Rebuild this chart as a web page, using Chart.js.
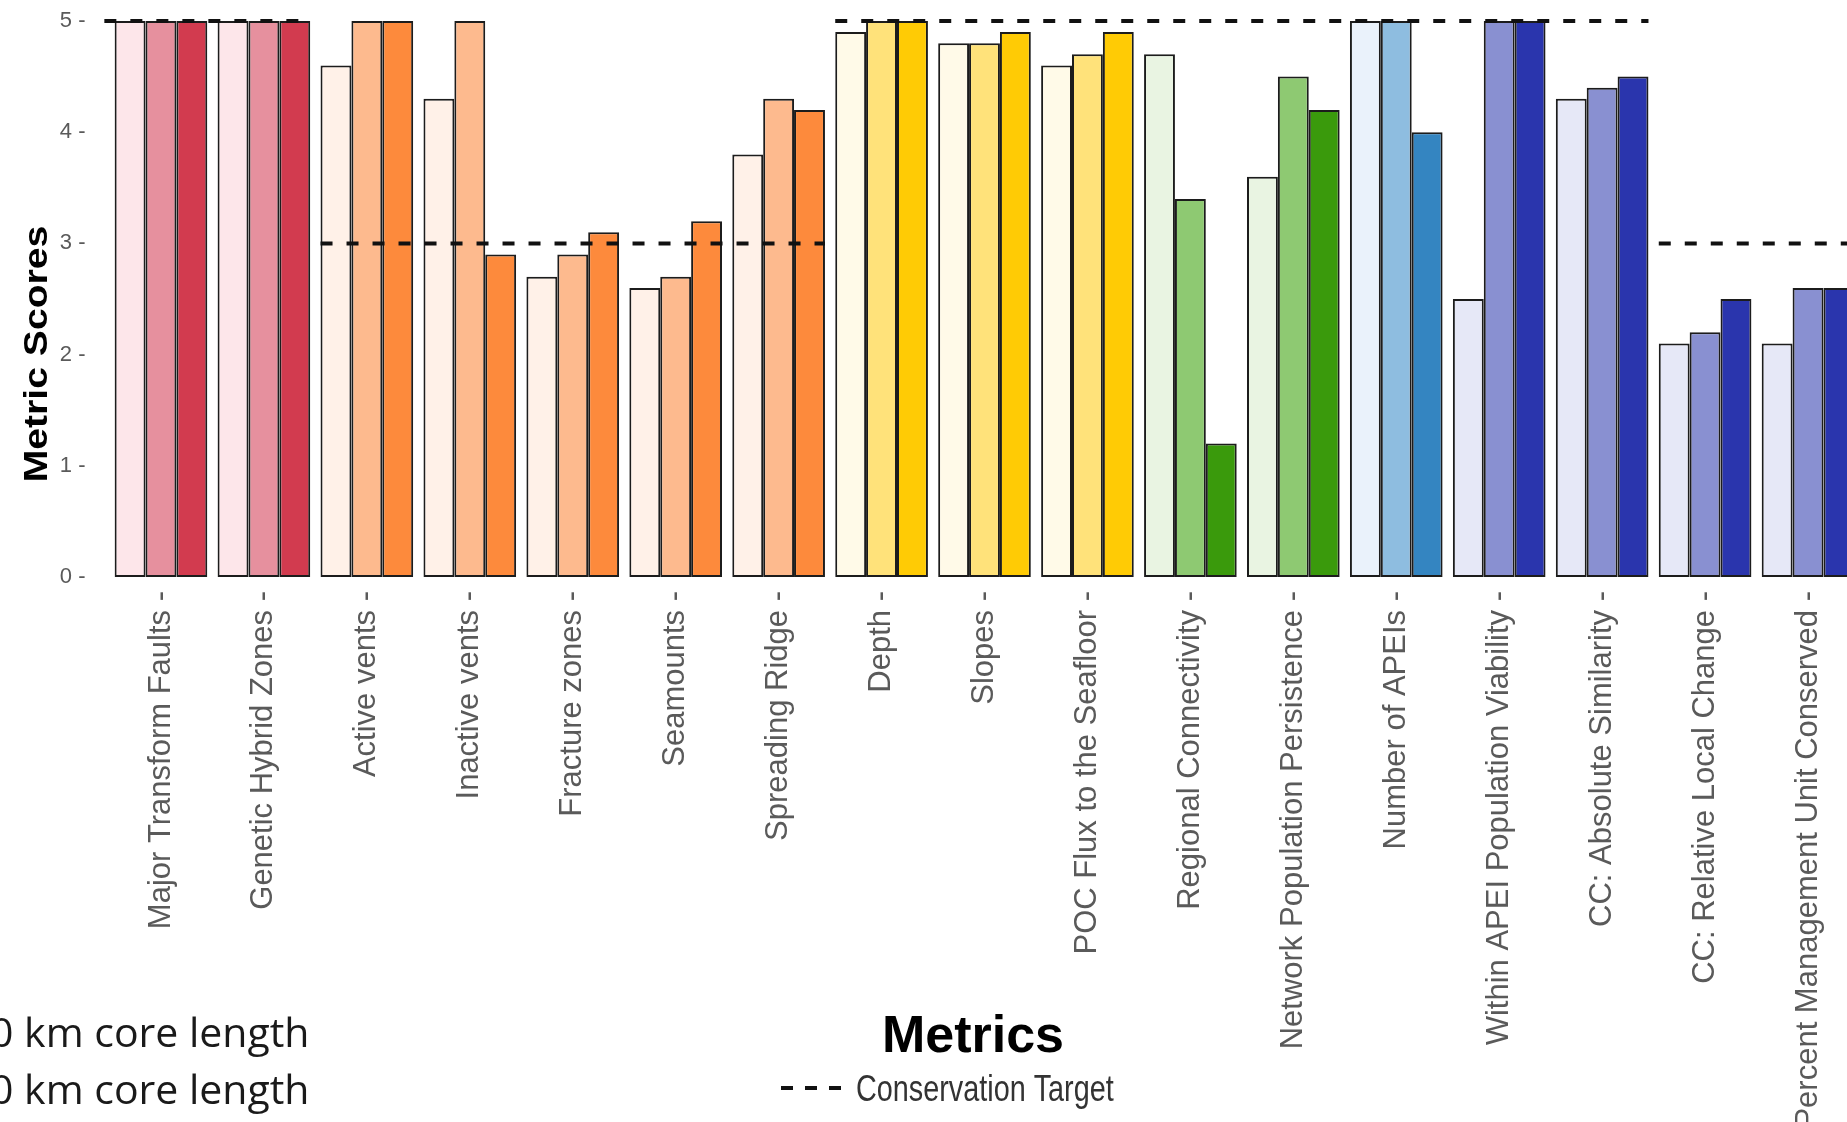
<!DOCTYPE html>
<html>
<head>
<meta charset="utf-8">
<script src="https://cdn.jsdelivr.net/npm/chart.js@4.4.1/dist/chart.umd.min.js"></script>
<style>
  html, body { margin: 0; padding: 0; background: #fff; overflow: hidden; }
  #wrap { position: relative; width: 1847px; height: 1122px; overflow: hidden; background: #fff; }
  #c { position: absolute; left: 0; top: 0; }
  .note { position: absolute; left: -10px; font-family: "Open Sans", sans-serif; font-size: 41px; color: #1a1a1a; white-space: nowrap; line-height: 1; }
</style>
</head>
<body>
<div id="wrap">
  <canvas id="c" width="1870" height="1122"></canvas>
  <div class="note" style="top:1011px;">0 km core length</div>
  <div class="note" style="top:1068px;">0 km core length</div>
</div>
<script>
// ---- data ----
const categories = [
  "Major Transform Faults", "Genetic Hybrid Zones", "Active vents", "Inactive vents",
  "Fracture zones", "Seamounts", "Spreading Ridge", "Depth", "Slopes",
  "POC Flux to the Seafloor", "Regional Connectivity", "Network Population Persistence",
  "Number of APEIs", "Within APEI Population Viability", "CC: Absolute Similarity",
  "CC: Relative Local Change", "Percent Management Unit Conserved"
];
const scoresFirst  = [5, 5, 4.6, 4.3, 2.7, 2.6, 3.8, 4.9, 4.8, 4.6, 4.7, 3.6, 5, 2.5, 4.3, 2.1, 2.1];
const scoresSecond = [5, 5, 5,   5,   2.9, 2.7, 4.3, 5,   4.8, 4.7, 3.4, 4.5, 5, 5,   4.4, 2.2, 2.6];
const scoresThird  = [5, 5, 5,   2.9, 3.1, 3.2, 4.2, 5,   4.9, 4.9, 1.2, 4.2, 4.0, 5, 4.5, 2.5, 2.6];
const yTicks = [0, 1, 2, 3, 4, 5];

// conservation targets: first and last category index of each run, and the target value
const targetFrom  = [0, 2, 7, 15];
const targetTo    = [1, 6, 14, 16];
const targetValue = [5, 3, 5, 3];

const yTitle = "Metric Scores";
const xTitle = "Metrics";
const legendLabel = "Conservation Target";

// ---- styles ----
const families = ["red","red","orange","orange","orange","orange","orange","yellow","yellow","yellow",
                  "green","green","blue","indigo","indigo","indigo","indigo"];
const palettes = {
  red:    ["#fde6ea", "#e6909e", "#d23b4f"],
  orange: ["#fff1e8", "#fdba8e", "#fd8a3c"],
  yellow: ["#fffae8", "#ffe27a", "#ffcb05"],
  green:  ["#e9f4e2", "#8ec972", "#3a9a0c"],
  blue:   ["#eaf2fb", "#8ebde0", "#3485c1"],
  indigo: ["#e6e8f7", "#8990d1", "#2a35ad"]
};
const FONT = '"Liberation Sans", Arial, Helvetica, sans-serif';

function colorsFor(level) { return families.map(f => palettes[f][level]); }

const barStyle = {
  borderColor: "#1c1c1c",
  borderWidth: 2,
  borderSkipped: false,
  categoryPercentage: 0.9,
  barPercentage: 1.0,
  clip: false
};

// dashed conservation-target segments, positioned through the chart's scales
const targetLines = {
  id: "targetLines",
  afterDatasetsDraw(chart) {
    const xs = chart.scales.x, ys = chart.scales.y;
    const slot = xs.getPixelForValue(1) - xs.getPixelForValue(0);
    const ctx = chart.ctx;
    ctx.save();
    ctx.strokeStyle = "#111";
    ctx.lineWidth = 4;
    ctx.setLineDash([12, 14]);
    targetValue.forEach((v, k) => {
      const startOff = k === 0 ? 0.55 : 0.45;
      const endOff = k === targetValue.length - 1 ? 0.7 : 0.45;
      const x0 = xs.getPixelForValue(targetFrom[k]) - startOff * slot;
      const x1 = xs.getPixelForValue(targetTo[k]) + endOff * slot;
      const y = ys.getPixelForValue(v);
      ctx.beginPath();
      ctx.moveTo(x0, y);
      ctx.lineTo(x1, y);
      ctx.stroke();
    });
    ctx.restore();
  }
};

const annotations = {
  id: "annotations",
  afterDraw(chart) {
    const ctx = chart.ctx;
    // y-axis title
    ctx.save();
    ctx.translate(47, 354);
    ctx.rotate(-Math.PI / 2);
    ctx.scale(1.15, 1);
    ctx.font = "bold 34px " + FONT;
    ctx.fillStyle = "#000";
    ctx.textAlign = "center";
    ctx.textBaseline = "alphabetic";
    ctx.fillText(yTitle, 0, 0);
    ctx.restore();
    // x-axis title
    ctx.save();
    ctx.font = "bold 52px " + FONT;
    ctx.fillStyle = "#000";
    ctx.textAlign = "center";
    ctx.textBaseline = "alphabetic";
    ctx.fillText(xTitle, 973, 1052);
    ctx.restore();
    // legend key
    ctx.save();
    ctx.strokeStyle = "#111";
    ctx.lineWidth = 4;
    ctx.setLineDash([12, 12]);
    ctx.beginPath();
    ctx.moveTo(781, 1088);
    ctx.lineTo(842, 1088);
    ctx.stroke();
    ctx.setLineDash([]);
    ctx.translate(856, 1101);
    ctx.scale(0.8, 1);
    ctx.font = "36px " + FONT;
    ctx.fillStyle = "#333";
    ctx.textAlign = "left";
    ctx.textBaseline = "alphabetic";
    ctx.fillText(legendLabel, 0, 0);
    ctx.restore();
  }
};

new Chart(document.getElementById("c"), {
  type: "bar",
  data: {
    labels: categories,
    datasets: [
      Object.assign({ label: "first",  data: scoresFirst,  backgroundColor: colorsFor(0) }, barStyle),
      Object.assign({ label: "second", data: scoresSecond, backgroundColor: colorsFor(1) }, barStyle),
      Object.assign({ label: "third",  data: scoresThird,  backgroundColor: colorsFor(2) }, barStyle)
    ]
  },
  options: {
    responsive: false,
    animation: false,
    devicePixelRatio: 1,
    layout: { padding: { left: 0, right: 10.5, top: 21, bottom: 0 } },
    plugins: { legend: { display: false }, tooltip: { enabled: false }, title: { display: false } },
    scales: {
      x: {
        type: "category",
        offset: true,
        grid: { display: false, drawTicks: false },
        border: { display: false },
        ticks: {
          autoSkip: false,
          minRotation: 90,
          maxRotation: 90,
          padding: 14,
          color: "#5a5a5a",
          font: { family: FONT, size: 31 },
          callback: (v, i) => categories[i] + " -"
        },
        afterFit(s) { s.height = 545; s.paddingLeft = 0; s.paddingRight = 0; }
      },
      y: {
        min: 0,
        max: 5,
        grid: { display: false, drawTicks: false },
        border: { display: false },
        afterBuildTicks(s) { s.ticks = yTicks.map(v => ({ value: v })); },
        ticks: {
          padding: 24,
          color: "#5a5a5a",
          font: { family: FONT, size: 22 },
          callback: v => v + " -"
        },
        afterFit(s) { s.width = 109.5; s.paddingTop = 0; s.paddingBottom = 0; }
      }
    }
  },
  plugins: [targetLines, annotations]
});
</script>
</body>
</html>
